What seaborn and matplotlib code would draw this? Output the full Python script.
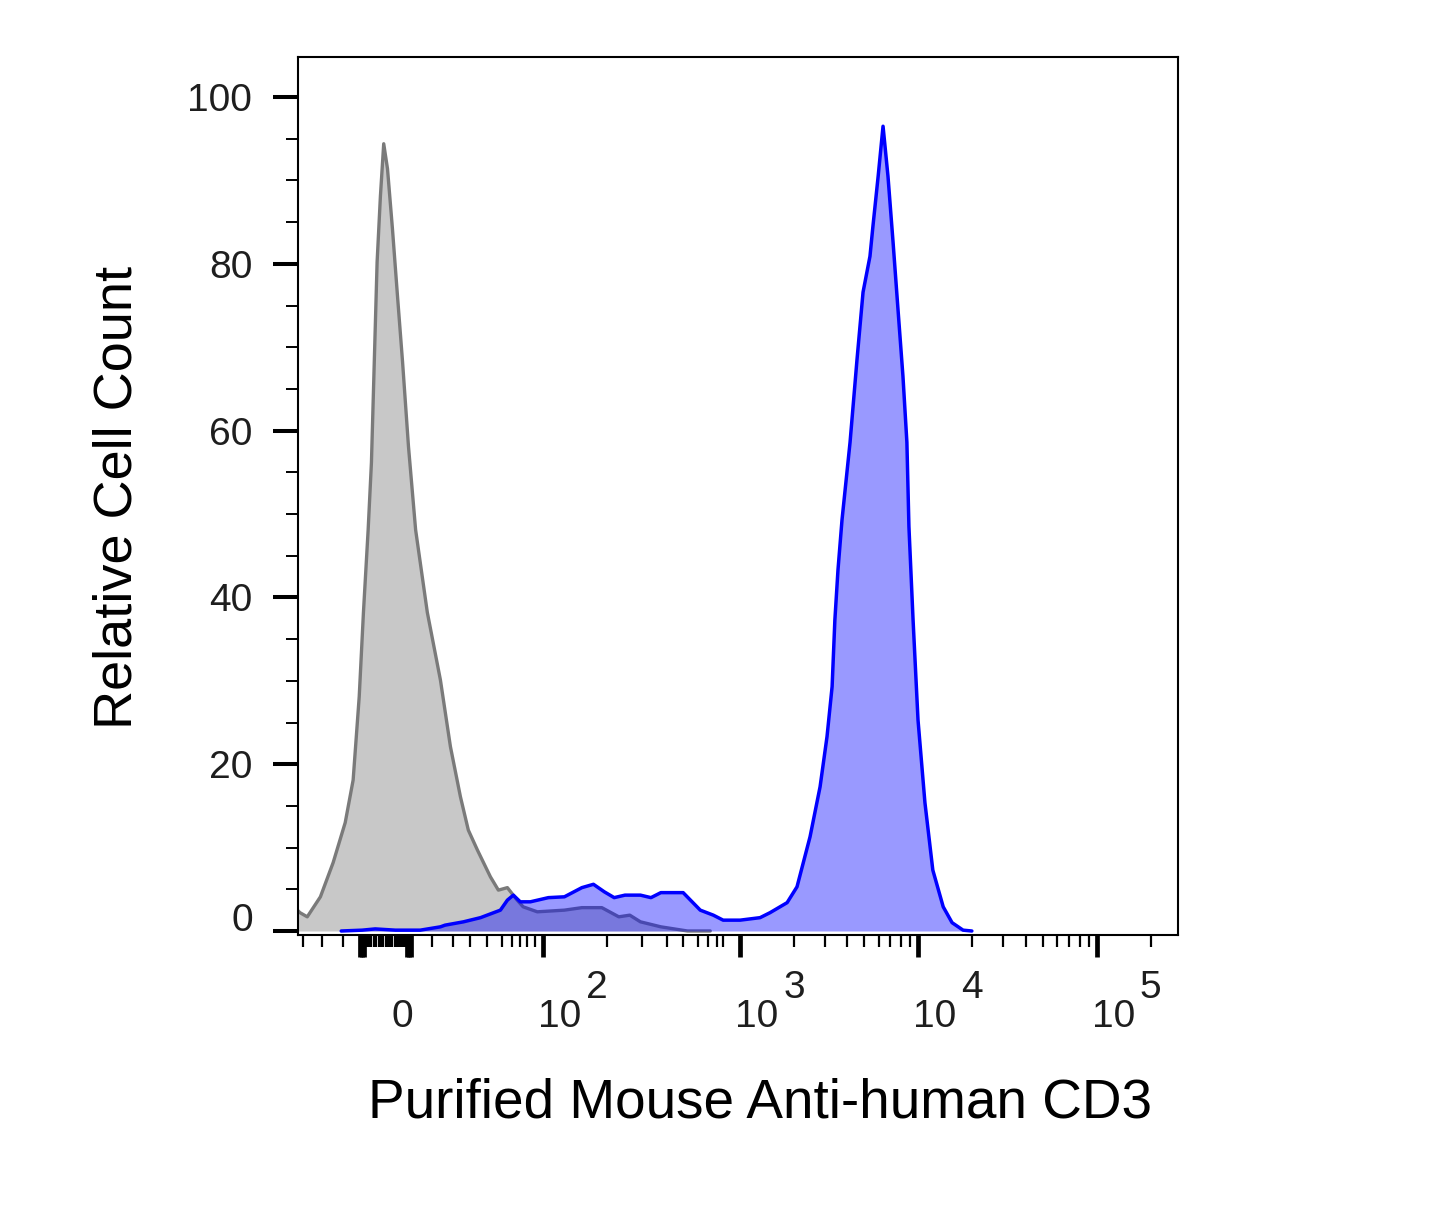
import numpy as np
import pandas as pd
import matplotlib
matplotlib.use('Agg')
import matplotlib.pyplot as plt
import seaborn as sns
from matplotlib.ticker import FixedLocator, NullFormatter

# fluorescence values (biexponential axis) and relative counts
gray_x = [-60, -38.5, -27.9, -21, -14.8, -9.6, -7.9, -6.6, -5.7, -4.7, -4.0, -3.4, -2.8,
          -2.1, -1.4, -0.6, 0.5, 1.7, 2.9, 4.3, 6.0, 8.8, 13.8, 18.6, 24.1, 28.8, 34.1,
          42, 47.3, 55, 66, 74, 92.5, 126.6, 153, 189, 229, 260, 294, 372, 527, 722]
gray_y = [3.1, 2.2, 1.7, 4.1, 8.2, 13.0, 18.1, 28.1, 38.2, 48.1, 56.2, 68.2, 80.2,
          88.1, 94.4, 91.4, 84.2, 76.1, 68.2, 58.1, 48.1, 38.2, 30.1, 22.1, 16.1, 12.1, 9.7,
          6.5, 4.9, 5.2, 3.7, 2.9, 2.3, 2.5, 2.8, 2.8, 1.7, 1.9, 1.1, 0.5, 0, 0]

cd3_x = [-11, -6, -3.2, 1.2, 7.1, 13.8, 16, 25.9, 35.9, 48.7, 55, 61.3, 70, 83.8, 106,
         126.6, 153, 173, 194, 217, 246, 294, 332, 372, 500, 620, 756, 900, 1000, 1295,
         1474, 1838, 2089, 2473, 2816, 3080, 3290, 3410, 3550, 3740, 4150, 4540, 4910,
         5370, 5580, 5970, 6360, 6780, 7240, 7720, 8230, 8660, 8890, 9380, 10000, 10930,
         12100, 13830, 15500, 17860, 20000]
cd3_y = [0, 0.1, 0.25, 0.1, 0.1, 0.5, 0.7, 1.1, 1.6, 2.5, 3.7, 4.3, 3.5, 3.5, 4.0,
         4.1, 5.2, 5.6, 4.7, 4.0, 4.3, 4.3, 4.0, 4.6, 4.6, 2.5, 1.9, 1.3, 1.3, 1.6,
         2.2, 3.4, 5.3, 11.3, 17.3, 23.3, 29.3, 37.3, 43.3, 49.3, 58.6, 68.5, 76.6,
         80.9, 84.5, 90.5, 96.5, 90.5, 82.6, 74.5, 66.5, 58.6, 48.5, 37.3, 25.3, 15.4,
         7.3, 2.9, 1.0, 0.1, 0]

decades = [2, 3, 4, 5]
y_labels = [20, 40, 60, 80, 100]

# display positions of the biexponential axis (value -> relative channel)
scale_vals = [-1000, -60, -30, -20, -10, 0, 10, 20, 30, 40, 50, 60, 70, 80, 90, 100,
              200, 300, 400, 500, 600, 700, 800, 900, 1000, 10000, 100000, 1000000]
scale_chan = [100, 292, 303, 322, 343, 390, 432, 453, 470, 487, 502, 512, 520, 527, 535, 543,
              607, 642, 667, 683, 698, 708, 717, 723, 740, 918, 1097, 1276]

G = np.arcsinh(np.array(scale_vals) / 50.0)
P = np.array(scale_chan, dtype=float)


def biex(x):
    return np.interp(np.arcsinh(np.asarray(x, dtype=float) / 50.0), G, P)


def biex_inv(p):
    return 50.0 * np.sinh(np.interp(np.asarray(p, dtype=float), P, G))


sns.set_style('ticks')
plt.rcParams['font.family'] = ['Liberation Sans', 'DejaVu Sans']

fig = plt.figure(figsize=(14.32, 12.17), dpi=100)
ax = fig.add_axes([298 / 1432, 1 - 935 / 1217, 880 / 1432, 878 / 1217])
ax.set_xscale('function', functions=(biex, biex_inv))

gray = pd.DataFrame({'x': gray_x, 'y': gray_y})
cd3 = pd.DataFrame({'x': cd3_x, 'y': cd3_y})

ax.fill_between(gray['x'], gray['y'], color='#c8c8c8', lw=0, zorder=1)
sns.lineplot(data=gray, x='x', y='y', sort=False, estimator=None, color='#7a7a7a', lw=2.4, ax=ax, zorder=2)
ax.fill_between(cd3['x'], cd3['y'], color='#0000ff', alpha=0.4, lw=0, zorder=3)
sns.lineplot(data=cd3, x='x', y='y', sort=False, estimator=None, color='#0000ff', lw=2.5, ax=ax, zorder=4)

ax.set_xlim(-43.6, 284000)
ax.set_ylim(-0.48, 104.8)

# x ticks (the dense block around zero is many small ticks)
major_x = [-6.5, -6, -5.5, 4, 4.5, 5] + [10 ** d for d in decades]
minor_x = [-30, -20, -10] + list(np.arange(-5, 4, 0.5)) + list(range(10, 100, 10)) + \
    list(range(200, 1000, 100)) + list(range(2000, 10000, 1000)) + \
    list(range(20000, 100000, 10000)) + [200000]
ax.xaxis.set_major_locator(FixedLocator(major_x))
ax.xaxis.set_minor_locator(FixedLocator(minor_x))
ax.xaxis.set_major_formatter(NullFormatter())
ax.xaxis.set_minor_formatter(NullFormatter())

# y ticks
ax.yaxis.set_major_locator(FixedLocator([0] + y_labels))
ax.yaxis.set_minor_locator(FixedLocator(list(range(5, 105, 5))))
ax.set_yticklabels([''] + [str(v) for v in y_labels])

ax.tick_params(axis='y', which='major', length=18, width=2.9, pad=15,
               labelsize=28, labelcolor='#1e1e1e', color='black')
ax.tick_params(axis='y', which='minor', length=8.6, width=1.4, color='black')
ax.tick_params(axis='x', which='major', length=16, width=3.4, color='black')
ax.tick_params(axis='x', which='minor', length=8.6, width=1.6, color='black')

for s in ax.spines.values():
    s.set_linewidth(1.5)
    s.set_color('black')
    s.set_visible(True)

ax.set_xlabel('')
ax.set_ylabel('')

# tick labels drawn as text
lab = dict(xycoords=('data', 'axes fraction'), textcoords='offset pixels',
           fontsize=28, color='#1e1e1e', va='baseline', annotation_clip=False)
ax.annotate('0', xy=(0, 0), xytext=(12, -92), ha='center', **lab)
for d in decades:
    ax.annotate('10', xy=(10 ** d, 0), xytext=(-5, -92), ha='left', **lab)
    ax.annotate(str(d), xy=(10 ** d, 0), xytext=(43, -63), ha='left', **lab)
ax.annotate('0', xy=(0, 0), xycoords=('axes fraction', 'data'), xytext=(-45, 0),
            textcoords='offset pixels', fontsize=28, color='#1e1e1e',
            ha='right', va='baseline', annotation_clip=False)

fig.text(760 / 1432, 1 - 1118 / 1217, 'Purified Mouse Anti-human CD3',
         fontsize=39.5, ha='center', va='baseline', color='black')
fig.text(118 / 1432, 1 - 497 / 1217, 'Relative Cell Count', fontsize=39,
         rotation=90, ha='center', va='center', color='black')

fig.savefig('out.png', dpi=100, facecolor='white')
